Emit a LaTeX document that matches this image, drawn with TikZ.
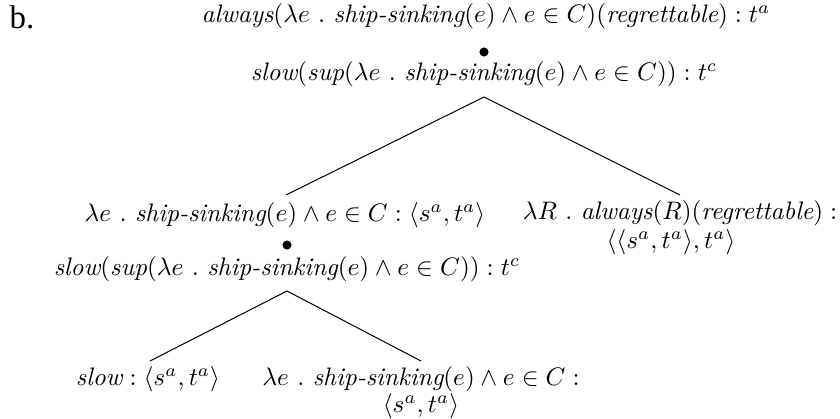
\documentclass[tikz,border=0pt]{standalone}
\usepackage{fontspec}
\newfontfamily\labelfont{Liberation Serif}
\begin{document}
\begin{tikzpicture}[x=0.3953pt,y=-0.3953pt,
  txt/.style={inner sep=0pt, anchor=center},
  branch/.style={line width=0.4pt, black},
  dotnode/.style={circle, fill=black, inner sep=0pt, minimum size=3.6pt}]
\useasboundingbox (0,0) rectangle (840,419);
% label
\node[txt] (lab) at (22,17) {\labelfont\fontsize{13}{15}\selectfont b.};
% top
\node[txt] (top) at (486,16) {$\textit{always}(\lambda e\ .\ \textit{ship-sinking}(e) \wedge e \in C)(\textit{regrettable}) : t^a$};
\node[dotnode] (dot1) at (484,52) {};
\node[txt] (top2) at (484,74) {$\textit{slow}(\textit{sup}(\lambda e\ .\ \textit{ship-sinking}(e) \wedge e \in C)) : t^c$};
\coordinate (a1) at (484,97);
\coordinate (e1l) at (286,195);
\coordinate (e1r) at (680,195);
% middle left
\node[txt] (mid) at (285,215) {$\lambda e\ .\ \textit{ship-sinking}(e) \wedge e \in C : \langle s^a, t^a\rangle$};
\node[dotnode] (dot2) at (287,245) {};
\node[txt] (mid2) at (287,269) {$\textit{slow}(\textit{sup}(\lambda e\ .\ \textit{ship-sinking}(e) \wedge e \in C)) : t^c$};
% middle right
\node[txt] (rt) at (680,213) {$\lambda R\ .\ \textit{always}(R)(\textit{regrettable}) :$};
\node[txt] (rb) at (671,242) {$\langle\langle s^a, t^a\rangle, t^a\rangle$};
\coordinate (a2) at (287,291);
\coordinate (e2l) at (150,361);
\coordinate (e2r) at (421,361);
% leaves
\node[txt] (leafl) at (148,379) {$\textit{slow} : \langle s^a, t^a\rangle$};
\node[txt] (leafr) at (421,379) {$\lambda e\ .\ \textit{ship-sinking}(e) \wedge e \in C :$};
\node[txt] (leafr2) at (421,406) {$\langle s^a, t^a\rangle$};
% branches
\draw[branch] (e1l) -- (a1) -- (e1r);
\draw[branch] (e2l) -- (a2) -- (e2r);
\end{tikzpicture}
\end{document}
